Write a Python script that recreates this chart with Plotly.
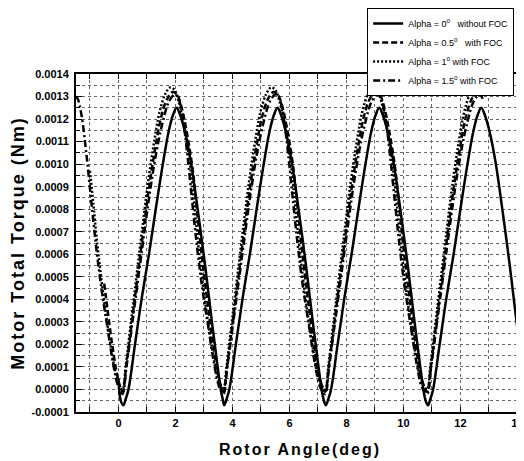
import plotly.graph_objects as go

# Rotor angle (deg) / torque (Nm)
angle_a0 = [0.00, 0.08,
            0.17, 0.26, 0.35, 0.58, 0.81, 1.07, 1.32, 1.57, 1.77, 1.92, 2.04, 2.16, 2.34, 2.54, 2.79, 3.04, 3.26, 3.46, 3.59, 3.67,
            3.71, 3.80, 3.89, 4.12, 4.35, 4.61, 4.86, 5.11, 5.31, 5.46, 5.58, 5.70, 5.88, 6.08, 6.33, 6.58, 6.80, 7.00, 7.13, 7.21,
            7.28, 7.37, 7.46, 7.69, 7.92, 8.18, 8.43, 8.68, 8.88, 9.03, 9.15, 9.27, 9.45, 9.65, 9.90, 10.15, 10.37, 10.57, 10.70, 10.78,
            10.86, 10.95, 11.04, 11.27, 11.50, 11.76, 12.01, 12.26, 12.46, 12.61, 12.73, 12.85, 13.03, 13.23, 13.48, 13.73, 13.95, 14.15, 14.28, 14.36]
torque_a0 = [0.00005, -0.00005,
             -0.00007, -0.00004, 0.00000, 0.00020, 0.00040, 0.00060, 0.00081, 0.00101, 0.00115, 0.00122, 0.00125, 0.00122, 0.00114, 0.00101, 0.00079, 0.00055, 0.00032, 0.00012, 0.00000, -0.00005,
             -0.00007, -0.00004, 0.00000, 0.00020, 0.00040, 0.00060, 0.00081, 0.00101, 0.00115, 0.00122, 0.00125, 0.00122, 0.00114, 0.00101, 0.00079, 0.00055, 0.00032, 0.00012, 0.00000, -0.00005,
             -0.00007, -0.00004, 0.00000, 0.00020, 0.00040, 0.00060, 0.00081, 0.00101, 0.00115, 0.00122, 0.00125, 0.00122, 0.00114, 0.00101, 0.00079, 0.00055, 0.00032, 0.00012, 0.00000, -0.00005,
             -0.00007, -0.00004, 0.00000, 0.00020, 0.00040, 0.00060, 0.00081, 0.00101, 0.00115, 0.00122, 0.00125, 0.00122, 0.00114, 0.00101, 0.00079, 0.00055, 0.00032, 0.00012, 0.00000, -0.00005]

angle_a05 = [-0.50, -0.44, -0.22, -0.02,
             0.14, 0.27, 0.46, 0.66, 0.87, 1.08, 1.29, 1.50, 1.71, 1.90, 2.05, 2.20, 2.40, 2.60, 2.75, 2.90, 3.10, 3.32, 3.52,
             3.68, 3.81, 4.00, 4.20, 4.41, 4.62, 4.83, 5.04, 5.25, 5.44, 5.59, 5.74, 5.94, 6.14, 6.29, 6.44, 6.64, 6.86, 7.06,
             7.25, 7.38, 7.57, 7.77, 7.98, 8.19, 8.40, 8.61, 8.82, 9.01, 9.16, 9.31, 9.51, 9.71, 9.86, 10.01, 10.21, 10.43, 10.63,
             10.83, 10.96, 11.15, 11.35, 11.56, 11.77, 11.98, 12.19, 12.40, 12.59, 12.74]
torque_a05 = [0.00047, 0.00041, 0.00020, 0.00005,
              -0.00001, 0.00010, 0.00029, 0.00049, 0.00070, 0.00090, 0.00107, 0.00121, 0.00129, 0.00132, 0.00131, 0.00126, 0.00114, 0.00098, 0.00080, 0.00062, 0.00041, 0.00020, 0.00005,
              -0.00001, 0.00010, 0.00029, 0.00049, 0.00070, 0.00090, 0.00107, 0.00121, 0.00129, 0.00132, 0.00131, 0.00126, 0.00114, 0.00098, 0.00080, 0.00062, 0.00041, 0.00020, 0.00005,
              -0.00001, 0.00010, 0.00029, 0.00049, 0.00070, 0.00090, 0.00107, 0.00121, 0.00129, 0.00132, 0.00131, 0.00126, 0.00114, 0.00098, 0.00080, 0.00062, 0.00041, 0.00020, 0.00005,
              -0.00001, 0.00010, 0.00029, 0.00049, 0.00070, 0.00090, 0.00107, 0.00121, 0.00129, 0.00132, 0.00131]

angle_a1 = [-1.00, -0.88, -0.73, -0.53, -0.28, -0.05,
            0.14, 0.26, 0.44, 0.64, 0.84, 1.04, 1.24, 1.44, 1.64, 1.81, 1.96, 2.11, 2.31, 2.51, 2.66, 2.81, 3.01, 3.26, 3.49,
            3.68, 3.80, 3.98, 4.18, 4.38, 4.58, 4.78, 4.98, 5.18, 5.35, 5.50, 5.65, 5.85, 6.05, 6.20, 6.35, 6.55, 6.80, 7.03,
            7.25, 7.37, 7.55, 7.75, 7.95, 8.15, 8.35, 8.55, 8.75, 8.92, 9.07, 9.22, 9.42, 9.62, 9.77, 9.92, 10.12, 10.37, 10.60,
            10.83, 10.95, 11.13, 11.33, 11.53, 11.73, 11.93, 12.13, 12.33, 12.50, 12.70]
torque_a1 = [0.00097, 0.00082, 0.00063, 0.00042, 0.00020, 0.00005,
             0.00000, 0.00011, 0.00030, 0.00051, 0.00072, 0.00092, 0.00109, 0.00123, 0.00131, 0.00134, 0.00133, 0.00128, 0.00116, 0.00100, 0.00082, 0.00063, 0.00042, 0.00020, 0.00005,
             0.00000, 0.00011, 0.00030, 0.00051, 0.00072, 0.00092, 0.00109, 0.00123, 0.00131, 0.00134, 0.00133, 0.00128, 0.00116, 0.00100, 0.00082, 0.00063, 0.00042, 0.00020, 0.00005,
             0.00000, 0.00011, 0.00030, 0.00051, 0.00072, 0.00092, 0.00109, 0.00123, 0.00131, 0.00134, 0.00133, 0.00128, 0.00116, 0.00100, 0.00082, 0.00063, 0.00042, 0.00020, 0.00005,
             0.00000, 0.00011, 0.00030, 0.00051, 0.00072, 0.00092, 0.00109, 0.00123, 0.00131, 0.00134, 0.00131]

angle_a15 = [-1.50, -1.43, -1.30, -1.13, -0.95, -0.78, -0.60, -0.38, -0.18, 0.00,
             0.14, 0.28, 0.48, 0.69, 0.90, 1.12, 1.34, 1.56, 1.78, 1.98, 2.11, 2.24, 2.41, 2.59, 2.76, 2.94, 3.16, 3.36, 3.54,
             3.68, 3.82, 4.02, 4.23, 4.44, 4.66, 4.88, 5.10, 5.32, 5.52, 5.65, 5.78, 5.95, 6.13, 6.30, 6.48, 6.70, 6.90, 7.08,
             7.25, 7.39, 7.59, 7.80, 8.01, 8.23, 8.45, 8.67, 8.89, 9.09, 9.22, 9.35, 9.52, 9.70, 9.87, 10.05, 10.27, 10.47, 10.65,
             10.83, 10.97, 11.17, 11.38, 11.59, 11.81, 12.03, 12.25, 12.47, 12.67, 12.78]
torque_a15 = [0.00130, 0.00129, 0.00122, 0.00105, 0.00083, 0.00063, 0.00045, 0.00027, 0.00011, 0.00001,
              -0.00002, 0.00010, 0.00029, 0.00049, 0.00069, 0.00089, 0.00106, 0.00119, 0.00128, 0.00131, 0.00129, 0.00122, 0.00105, 0.00083, 0.00063, 0.00045, 0.00027, 0.00011, 0.00001,
              -0.00002, 0.00010, 0.00029, 0.00049, 0.00069, 0.00089, 0.00106, 0.00119, 0.00128, 0.00131, 0.00129, 0.00122, 0.00105, 0.00083, 0.00063, 0.00045, 0.00027, 0.00011, 0.00001,
              -0.00002, 0.00010, 0.00029, 0.00049, 0.00069, 0.00089, 0.00106, 0.00119, 0.00128, 0.00131, 0.00129, 0.00122, 0.00105, 0.00083, 0.00063, 0.00045, 0.00027, 0.00011, 0.00001,
              -0.00002, 0.00010, 0.00029, 0.00049, 0.00069, 0.00089, 0.00106, 0.00119, 0.00128, 0.00131, 0.00129]

series_names = ["Alpha = 0<sup>o</sup>   without FOC", "Alpha = 0.5<sup>o</sup>   with FOC",
                "Alpha = 1<sup>o</sup> with FOC", "Alpha = 1.5<sup>o</sup> with FOC"]

x_ticks = [0, 2, 4, 6, 8, 10, 12, 14]
y_ticks = [-0.0001, 0.0000, 0.0001, 0.0002, 0.0003, 0.0004, 0.0005, 0.0006, 0.0007,
           0.0008, 0.0009, 0.0010, 0.0011, 0.0012, 0.0013, 0.0014]
y_ticktext = ["-0.0001", "0.0000", "0.0001", "0.0002", "0.0003", "0.0004", "0.0005", "0.0006", "0.0007",
              "0.0008", "0.0009", "0.0010", "0.0011", "0.0012", "0.0013", "0.0014"]

fig = go.Figure()
line_styles = ["solid", "6px,3px", "2px,2px", "7px,3px,2px,3px"]
for xs, ys, name, dash in zip([angle_a0, angle_a05, angle_a1, angle_a15],
                              [torque_a0, torque_a05, torque_a1, torque_a15],
                              series_names, line_styles):
    fig.add_trace(go.Scatter(x=xs, y=ys, name=name, mode="lines",
                             line=dict(color="black", width=2.5, dash=dash, shape="spline")))

tick_font = dict(family="Liberation Sans, Arial", size=11, color="black", weight="bold")
grid = dict(showgrid=True, gridcolor="#666", griddash="dot", gridwidth=1)

# the page body adds an 8px margin, so the figure is 8px smaller than the window
fig.update_layout(
    width=516, height=453,
    margin=dict(l=68, r=0, t=66, b=49, autoexpand=False),
    plot_bgcolor="white", paper_bgcolor="white",
    showlegend=True,
    legend=dict(xref="container", yref="container", x=0.696, y=1.0, xanchor="left", yanchor="top",
                bordercolor="black", borderwidth=1, bgcolor="white",
                font=dict(family="Liberation Sans Narrow, Liberation Sans", size=9, color="black"),
                tracegroupgap=0, itemwidth=30),
    xaxis=dict(range=[-1.49, 14.23], tickvals=x_ticks, tickfont=tick_font, automargin=False,
               ticklabeloverflow="allow",
               ticks="inside", ticklen=5, tickcolor="black",
               showline=True, linecolor="black", linewidth=2, mirror="allticks",
               zeroline=False, **grid,
               minor=dict(dtick=1, tick0=0, ticks="inside", ticklen=5, tickcolor="black",
                          showgrid=True, gridcolor="#666", griddash="dot", gridwidth=1),
               title=dict(text='<span style="letter-spacing:2px">Rotor Angle(deg)</span>',
                          font=dict(family="Liberation Sans, Arial", size=16, color="black", weight="bold"),
                          standoff=16)),
    yaxis=dict(range=[-0.0001, 0.0014], tickvals=y_ticks, ticktext=y_ticktext, tickfont=tick_font,
               automargin=False, ticklabelstandoff=3,
               ticks="inside", ticklen=6, tickcolor="black",
               showline=True, linecolor="black", linewidth=2, mirror=False,
               zeroline=False, **grid,
               minor=dict(dtick=0.00005, tick0=0, ticks="inside", ticklen=4, tickcolor="black",
                          showgrid=True, gridcolor="#666", griddash="dot", gridwidth=1),
               title=dict(text='<span style="letter-spacing:2px">Motor Total Torque (Nm)</span>',
                          font=dict(family="Liberation Sans, Arial", size=18, color="black", weight="bold"),
                          standoff=7)),
)

fig.write_html("out.html")
